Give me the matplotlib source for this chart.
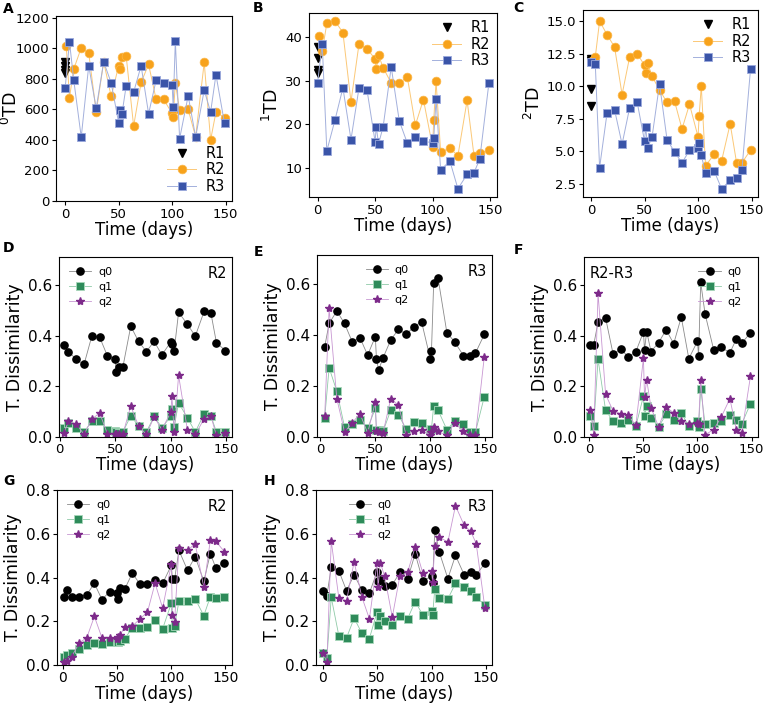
import numpy as np
import matplotlib.pyplot as plt

# time points (days)
t_r2 = [1, 4, 8, 15, 22, 29, 36, 43, 50, 51, 53, 57, 64, 71, 78, 85, 92, 100, 101, 103, 107, 115, 122, 130, 136, 141, 149]
t_r3 = [0, 4, 8, 15, 22, 29, 36, 43, 50, 51, 53, 57, 64, 71, 78, 85, 92, 100, 101, 103, 107, 115, 122, 130, 136, 141, 149]
t_r1 = [0, 0, 0, 0]
t_d = t_r2[1:]

# panels A-C: true diversity of order 0, 1, 2
td0_r1 = [910, 885, 860, 840]
td0_r2 = [1013, 675, 863, 1002, 969, 582, 910, 684, 884, 862, 939, 950, 490, 776, 893, 667, 665,
          573, 547, 769, 597, 599, 420, 906, 399, 582, 545]
td0_r3 = [741, 1041, 791, 418, 884, 606, 910, 773, 512, 597, 566, 752, 712, 884, 571, 789, 773,
          760, 617, 1048, 407, 688, 418, 725, 582, 826, 508]

td1_r1 = [37.8, 35.3, 32.4, 31.8]
td1_r2 = [40.2, 36.8, 43.2, 43.8, 41.1, 25.2, 38.5, 37.4, 35.0, 32.7, 35.9, 33.0, 29.5, 29.5, 30.9,
          19.8, 25.7, 14.8, 21.1, 29.9, 13.7, 14.5, 12.8, 25.5, 12.8, 13.5, 14.0]
td1_r3 = [29.6, 38.5, 13.9, 20.9, 28.4, 16.5, 28.4, 27.8, 16.0, 19.5, 15.5, 19.5, 33.2, 20.8, 15.7,
          17.0, 16.2, 15.7, 16.9, 25.8, 9.5, 11.6, 5.2, 8.5, 8.9, 12.0, 29.6]

td2_r1 = [12.1, 11.9, 9.8, 8.45]
td2_r2 = [11.9, 12.25, 15.0, 13.95, 13.0, 9.35, 12.2, 12.5, 11.6, 11.0, 11.75, 10.75, 9.7, 8.75, 8.85,
          6.7, 8.6, 6.1, 7.7, 10.0, 3.86, 4.76, 4.25, 7.1, 4.1, 4.1, 5.07]
td2_r3 = [11.87, 11.66, 3.73, 7.94, 8.17, 5.53, 8.3, 8.81, 5.76, 6.86, 5.27, 6.07, 10.17, 5.89, 4.94,
          4.09, 5.07, 5.27, 5.63, 4.68, 3.32, 3.48, 2.1, 2.76, 2.94, 3.58, 11.3]

# panel D: R2 consecutive dissimilarity
d_q0 = [0.364, 0.337, 0.306, 0.286, 0.398, 0.394, 0.320, 0.306, 0.256, 0.278, 0.278, 0.437, 0.377,
        0.337, 0.377, 0.324, 0.375, 0.365, 0.340, 0.492, 0.444, 0.398, 0.496, 0.490, 0.372, 0.341]
d_q1 = [0.035, 0.055, 0.035, 0.020, 0.062, 0.062, 0.026, 0.022, 0.020, 0.017, 0.020, 0.084, 0.043,
        0.020, 0.081, 0.037, 0.081, 0.112, 0.040, 0.135, 0.075, 0.020, 0.092, 0.084, 0.020, 0.020]
d_q2 = [0.016, 0.062, 0.052, 0.010, 0.070, 0.095, 0.013, 0.010, 0.010, 0.010, 0.013, 0.122, 0.043,
        0.010, 0.079, 0.029, 0.098, 0.160, 0.018, 0.243, 0.026, 0.010, 0.072, 0.083, 0.006, 0.016]

# panel E: R3 consecutive dissimilarity
e_q0 = [0.355, 0.446, 0.495, 0.446, 0.374, 0.390, 0.322, 0.394, 0.308, 0.263, 0.311, 0.381, 0.423,
        0.403, 0.433, 0.453, 0.306, 0.337, 0.604, 0.624, 0.410, 0.374, 0.320, 0.318, 0.330, 0.403]
e_q1 = [0.075, 0.272, 0.180, 0.040, 0.052, 0.066, 0.035, 0.112, 0.029, 0.026, 0.022, 0.105, 0.085,
        0.033, 0.059, 0.056, 0.026, 0.033, 0.122, 0.105, 0.029, 0.062, 0.052, 0.020, 0.020, 0.158]
e_q2 = [0.081, 0.505, 0.151, 0.020, 0.055, 0.092, 0.016, 0.138, 0.022, 0.020, 0.016, 0.151, 0.125,
        0.007, 0.022, 0.026, 0.007, 0.020, 0.040, 0.022, 0.007, 0.056, 0.022, 0.007, 0.007, 0.315]

# panel F: R2 vs R3
f_q0 = [0.364, 0.364, 0.453, 0.469, 0.326, 0.348, 0.315, 0.337, 0.414, 0.344, 0.416, 0.337, 0.372,
        0.423, 0.368, 0.473, 0.309, 0.378, 0.318, 0.610, 0.486, 0.344, 0.354, 0.332, 0.387, 0.370, 0.411]
f_q1 = [0.083, 0.043, 0.306, 0.105, 0.062, 0.055, 0.066, 0.043, 0.161, 0.083, 0.122, 0.076, 0.040,
        0.089, 0.066, 0.096, 0.042, 0.062, 0.040, 0.190, 0.052, 0.055, 0.062, 0.088, 0.066, 0.052, 0.131]
f_q2 = [0.108, 0.009, 0.567, 0.168, 0.102, 0.092, 0.085, 0.046, 0.311, 0.158, 0.226, 0.116, 0.040,
        0.118, 0.095, 0.062, 0.052, 0.056, 0.052, 0.226, 0.009, 0.029, 0.079, 0.151, 0.029, 0.017, 0.239]

# panel G: R2 vs first sample
g_q0 = [0.309, 0.343, 0.312, 0.312, 0.322, 0.373, 0.299, 0.335, 0.328, 0.302, 0.350, 0.347, 0.420,
        0.370, 0.370, 0.390, 0.373, 0.456, 0.395, 0.392, 0.524, 0.433, 0.495, 0.383, 0.509, 0.445, 0.468]
g_q1 = [0.035, 0.045, 0.056, 0.075, 0.090, 0.101, 0.098, 0.106, 0.109, 0.106, 0.109, 0.121, 0.169,
        0.169, 0.174, 0.207, 0.166, 0.282, 0.169, 0.177, 0.291, 0.291, 0.302, 0.226, 0.312, 0.305, 0.312]
g_q2 = [0.015, 0.020, 0.038, 0.101, 0.125, 0.222, 0.124, 0.124, 0.118, 0.128, 0.139, 0.174, 0.177,
        0.211, 0.242, 0.374, 0.260, 0.460, 0.229, 0.196, 0.536, 0.524, 0.555, 0.355, 0.571, 0.566, 0.518]

# panel H: R3 vs first sample
h_q0 = [0.340, 0.317, 0.448, 0.430, 0.340, 0.412, 0.344, 0.329, 0.426, 0.385, 0.388, 0.362, 0.367,
        0.423, 0.392, 0.509, 0.385, 0.405, 0.377, 0.619, 0.518, 0.395, 0.501, 0.412, 0.423, 0.412, 0.465]
h_q1 = [0.056, 0.033, 0.309, 0.133, 0.124, 0.214, 0.146, 0.121, 0.242, 0.181, 0.226, 0.199, 0.181,
        0.226, 0.211, 0.290, 0.229, 0.249, 0.229, 0.347, 0.306, 0.302, 0.373, 0.355, 0.340, 0.309, 0.276]
h_q2 = [0.056, 0.015, 0.566, 0.305, 0.294, 0.472, 0.312, 0.211, 0.468, 0.355, 0.468, 0.405, 0.219,
        0.408, 0.423, 0.540, 0.420, 0.430, 0.380, 0.543, 0.585, 0.562, 0.728, 0.638, 0.611, 0.555, 0.260]

ORANGE = '#f7a21b'
BLUE = '#3a54a8'
GREEN = '#2e8b5a'
PURPLE = '#7d2a8a'

fig = plt.figure(figsize=(7.64, 7.04), dpi=100)


def add_ax(l, t, r, b):
    # pixel box -> figure fraction
    return fig.add_axes([l / 764, 1 - b / 704, (r - l) / 764, (b - t) / 704])


def plot_td(ax, r1, r2, r3, ylab, loc):
    ax.plot(t_r1, r1, 'v', color='black', ms=6, ls='none', label='R1')
    ax.plot(t_r2, r2, 'o-', color='#fbc877', mfc=ORANGE, mec='#fbb84a', ms=6.3, lw=0.7,
            mew=0.5, label='R2')
    ax.plot(t_r3, r3, 's-', color='#a3b0dc', mfc=BLUE, mec='#9aa8dc', ms=6.3, lw=0.7,
            mew=0.6, label='R3')
    ax.set_ylabel(ylab, fontsize=12.5, labelpad=2)
    ax.legend(loc=loc, frameon=False, fontsize=10.5, handletextpad=0.6,
              borderaxespad=0.1, labelspacing=0.1)
    ax.tick_params(labelsize=9.5, pad=2, length=3)


def plot_q(ax, t, q0, q1, q2, tag, tag_right, legend_anchor, xsize):
    ax.plot(t, q0, 'o-', color='#8a8a8a', mfc='black', mec='black', ms=5.2, lw=0.6, label='q0')
    ax.plot(t, q1, 's-', color='#8fcaa8', mfc=GREEN, mec='#a8d8bb', ms=5.2, lw=0.6, mew=0.6,
            label='q1')
    ax.plot(t, q2, '*-', color='#c897d2', mfc=PURPLE, mec=PURPLE, ms=6, lw=0.6, label='q2')
    ax.set_ylabel('T. Dissimilarity', fontsize=12.5, labelpad=3)
    if tag_right:
        ax.text(0.97, 0.95, tag, transform=ax.transAxes, ha='right', va='top', fontsize=10.5)
    else:
        ax.text(0.03, 0.95, tag, transform=ax.transAxes, ha='left', va='top', fontsize=10.5)
    ax.legend(loc='upper left', bbox_to_anchor=legend_anchor, frameon=False, fontsize=8,
              handletextpad=0.6, labelspacing=0.45, handlelength=2.0)
    ax.tick_params(axis='y', labelsize=11, pad=2, length=3)
    ax.tick_params(axis='x', labelsize=xsize, pad=1.5, length=3)


axA = add_ax(56, 16, 232, 201)
plot_td(axA, td0_r1, td0_r2, td0_r3, r'$^0$TD', 'lower right')
axA.set_ylim(0, 1210)
axA.set_yticks([0, 200, 400, 600, 800, 1000, 1200])
axA.set_xlim(-8.6, 156)
axA.yaxis.set_label_coords(-0.2, 0.5)

axB = add_ax(309, 13, 497, 197)
plot_td(axB, td1_r1, td1_r2, td1_r3, r'$^1$TD', 'upper right')
axB.set_ylim(3.3, 45.6)
axB.set_yticks([10, 20, 30, 40])
axB.set_xlim(-7.5, 156)

axC = add_ax(583, 10, 758, 197)
plot_td(axC, td2_r1, td2_r2, td2_r3, r'$^2$TD', 'upper right')
axC.set_ylim(1.47, 15.85)
axC.set_yticks([2.5, 5.0, 7.5, 10.0, 12.5, 15.0])
axC.set_xlim(-7.5, 156)

axD = add_ax(59, 257, 232, 437)
plot_q(axD, t_d, d_q0, d_q1, d_q2, 'R2', True, (0.0, 1.0), 9.5)
axD.set_ylim(0, 0.71)
axD.set_xlim(-0.5, 155)

axE = add_ax(317, 255, 492, 437)
plot_q(axE, t_d, e_q0, e_q1, e_q2, 'R3', True, (0.22, 1.0), 9.5)
axE.set_ylim(0, 0.715)
axE.set_xlim(-3, 156)

axF = add_ax(584, 257, 758, 437)
plot_q(axF, t_r2, f_q0, f_q1, f_q2, 'R2-R3', False, (0.6, 1.0), 9.5)
axF.set_ylim(0, 0.71)
axF.set_xlim(-5, 156)

axG = add_ax(57, 490, 232, 665)
plot_q(axG, t_r2, g_q0, g_q1, g_q2, 'R2', True, (0.0, 1.0), 10)
axG.set_ylim(0, 0.8)
axG.set_xlim(-5.5, 156)

axH = add_ax(316, 490, 492, 665)
plot_q(axH, t_r3, h_q0, h_q1, h_q2, 'R3', True, (0.13, 1.0), 10)
axH.set_ylim(0, 0.8)
axH.set_xlim(-6, 155.5)

for ax in [axA, axB, axC, axD, axE, axF, axG, axH]:
    ax.set_xticks([0, 50, 100, 150])
    ax.set_xlabel('Time (days)', fontsize=12, labelpad=0)

letters = [('A', 3, 9), ('B', 253, 8), ('C', 513, 8), ('D', 3, 248), ('E', 254, 252),
           ('F', 514, 250), ('G', 3, 481), ('H', 264, 481)]
for s, x, y in letters:
    fig.text(x / 764, 1 - y / 704, s, fontsize=10, fontweight='bold', ha='left', va='center')

fig.savefig('out.png', dpi=100)
